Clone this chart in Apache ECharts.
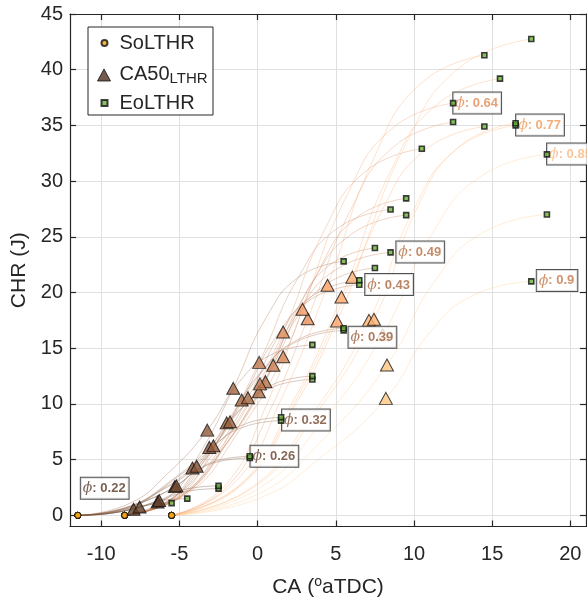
<!DOCTYPE html>
<html>
<head>
<meta charset="utf-8">
<script src="https://cdn.jsdelivr.net/npm/echarts@6/dist/echarts.min.js"></script>
<style>
html,body{margin:0;padding:0;background:#fff;}
#chart{width:587px;height:603px;}
</style>
</head>
<body>
<div id="chart"></div>
<script>
// Axis ticks
const xTicks = [-10, -5, 0, 5, 10, 15, 20];
const yTicks = [0, 5, 10, 15, 20, 25, 30, 35, 40, 45];

// One entry per cumulative heat-release trace
const phi = [0.22, 0.22, 0.22, 0.22, 0.26, 0.26, 0.32, 0.32, 0.35, 0.35, 0.36,
             0.39, 0.39, 0.41, 0.43, 0.43, 0.45, 0.47, 0.49, 0.5, 0.52, 0.55, 0.58,
             0.6, 0.64, 0.7, 0.68, 0.72, 0.77, 0.77, 0.75, 0.85, 0.88, 0.9];

// Start of LTHR (CA, heat release is zero there)
const soX = [-11.5, -11.5, -11.5, -11.5, -11.5, -11.5, -11.5, -11.5, -11.5, -11.5, -11.5,
             -8.5, -8.5, -8.5, -8.5, -8.5, -8.5, -8.5, -8.5, -8.5, -8.5, -8.5, -8.5,
             -5.5, -5.5, -5.5, -5.5, -5.5, -5.5, -5.5, -5.5, -5.5, -5.5, -5.5];

// CA50 of LTHR
const ca50X = [-7.94, -7.55, -6.4, -6.3, -5.3, -5.2, -4.17, -3.9, -3.09, -2.83, -3.22,
               -1.98, -1.77, -1.56, -1.02, -0.62, 0.08, 0.5, 0.15, 0.1, 1.0, 1.63, 1.63,
               3.2, 2.87, 5.08, 4.47, 5.36, 7.12, 7.44, 6.06, 8.0, 8.27, 8.2];
const ca50Y = [0.55, 0.75, 1.2, 1.33, 2.58, 2.65, 4.25, 4.4, 6.1, 6.25, 7.65,
               8.3, 8.4, 11.4, 10.35, 10.55, 11.1, 12, 11.8, 13.73, 13.48, 14.23, 16.45,
               17.65, 18.5, 17.45, 20.65, 19.6, 17.5, 17.6, 21.38, 16.2, 13.5, 10.5];

// End of LTHR
const eoX = [-5.5, -4.5, -2.5, -2.5, -0.5, -0.5, 1.5, 1.5, 3.5, 3.5, 3.5,
             5.5, 5.5, 5.5, 6.5, 6.5, 7.5, 7.5, 8.5, 8.5, 9.5, 9.5, 10.5,
             12.5, 12.5, 14.5, 14.5, 15.5, 16.5, 16.5, 17.5, 18.5, 18.5, 17.5];
const eoY = [1.1, 1.5, 2.4, 2.65, 5.15, 5.3, 8.5, 8.8, 12.2, 12.5, 15.3,
             16.6, 16.8, 22.8, 20.7, 21.1, 22.2, 24, 23.6, 27.45, 26.95, 28.45, 32.9,
             35.3, 37, 34.9, 41.3, 39.2, 35, 35.2, 42.75, 32.4, 27, 21];

// Trace points between start and CA50
const leadPts = [
  [[-10.08, 0.08], [-9.01, 0.28]], [[-9.92, 0.11], [-8.74, 0.38]],
  [[-9.46, 0.17], [-7.93, 0.6]], [[-9.42, 0.19], [-7.86, 0.66]],
  [[-9.02, 0.36], [-7.16, 1.29]], [[-8.98, 0.37], [-7.09, 1.33]],
  [[-8.57, 0.6], [-6.37, 2.13]], [[-8.46, 0.62], [-6.18, 2.2]],
  [[-8.14, 0.85], [-5.61, 3.05]], [[-8.03, 0.88], [-5.43, 3.13]],
  [[-8.19, 1.07], [-5.7, 3.83]],
  [[-5.89, 1.16], [-3.94, 4.15]], [[-5.81, 1.18], [-3.79, 4.2]],
  [[-5.72, 1.6], [-3.64, 5.7]], [[-5.51, 1.45], [-3.26, 5.18]],
  [[-5.35, 1.48], [-2.98, 5.28]], [[-5.07, 1.55], [-2.49, 5.55]],
  [[-4.9, 1.68], [-2.2, 6.0]], [[-5.04, 1.65], [-2.45, 5.9]],
  [[-5.06, 1.92], [-2.48, 6.86]], [[-4.7, 1.89], [-1.85, 6.74]],
  [[-4.45, 1.99], [-1.41, 7.11]], [[-4.45, 2.3], [-1.41, 8.23]],
  [[-2.02, 2.47], [0.59, 8.83]], [[-2.15, 2.59], [0.36, 9.25]],
  [[-1.27, 2.44], [1.91, 8.73]], [[-1.51, 2.89], [1.48, 10.33]],
  [[-1.16, 2.74], [2.1, 9.8]], [[-0.45, 2.45], [3.33, 8.75]],
  [[-0.32, 2.46], [3.56, 8.8]], [[-0.88, 2.99], [2.59, 10.69]],
  [[-0.1, 2.27], [3.95, 8.1]], [[0.01, 1.89], [4.14, 6.75]],
  [[-0.02, 1.47], [4.09, 5.25]]
];

// Trace points between CA50 and end
const tailPts = [
  [[-7.21, 0.86], [-6.48, 1.03]], [[-6.64, 1.17], [-5.72, 1.41]],
  [[-5.23, 1.87], [-4.06, 2.26]], [[-5.16, 2.07], [-4.02, 2.49]],
  [[-3.86, 4.02], [-2.42, 4.84]], [[-3.79, 4.13], [-2.38, 4.98]],
  [[-2.47, 6.63], [-0.77, 7.99]], [[-2.28, 6.86], [-0.66, 8.27]],
  [[-1.11, 9.52], [0.86, 11.47]], [[-0.93, 9.75], [0.97, 11.75]],
  [[-1.2, 11.93], [0.81, 14.38]],
  [[0.26, 12.95], [2.51, 15.6]], [[0.41, 13.1], [2.59, 15.79]],
  [[0.56, 17.78], [2.68, 21.43]], [[1.24, 16.15], [3.49, 19.46]],
  [[1.52, 16.46], [3.65, 19.83]], [[2.31, 17.32], [4.53, 20.87]],
  [[2.6, 18.72], [4.7, 22.56]], [[2.66, 18.41], [5.16, 22.18]],
  [[2.62, 21.41], [5.14, 25.8]], [[3.55, 21.02], [6.1, 25.33]],
  [[3.99, 22.19], [6.35, 26.74]], [[4.29, 25.66], [6.95, 30.93]],
  [[5.99, 27.53], [8.78, 33.18]], [[5.76, 28.86], [8.65, 34.78]],
  [[7.91, 27.22], [10.73, 32.81]], [[7.48, 32.21], [10.49, 38.82]],
  [[8.4, 30.58], [11.44, 36.85]], [[9.93, 27.3], [12.75, 32.9]],
  [[10.16, 27.46], [12.88, 33.09]], [[9.49, 33.35], [12.92, 40.19]],
  [[11.15, 25.27], [14.3, 30.46]], [[11.34, 21.06], [14.41, 25.38]],
  [[10.99, 16.38], [13.78, 19.74]]
];

// Equivalence-ratio tags
const tagText = ['0.22', '0.26', '0.32', '0.39', '0.43', '0.49', '0.64', '0.77', '0.85', '0.9'];
const tagX = [-11.34, -0.49, 1.53, 5.78, 6.85, 8.84, 12.48, 16.5, 18.48, 17.82];
const tagY = [2.44, 5.3, 8.57, 15.98, 20.71, 23.63, 37.02, 35.04, 32.44, 21.09];

// Tag text colours
const tagColors = ['#5a3825', '#66402c', '#774830', '#985d3b', '#aa6841', '#b56f45',
                   '#e38a53', '#ef9a59', '#f8b87f', '#c27848'];

const FONT = '"Liberation Sans", Arial, Helvetica, sans-serif';
const INK = '#262626';

// copper colormap
function copper(t) {
  const r = Math.min(1, 1.25 * t), g = 0.7812 * t, b = 0.4975 * t;
  return 'rgb(' + Math.round(r * 255) + ',' + Math.round(g * 255) + ',' + Math.round(b * 255) + ')';
}
function shade(p) { return Math.min(1, Math.max(0, 0.3 + (p - 0.22) * 1.1)); }

const curveSeries = phi.map((p, i) => ({
  type: 'line',
  data: [[soX[i], 0]].concat(leadPts[i], [[ca50X[i], ca50Y[i]]], tailPts[i], [[eoX[i], eoY[i]]]),
  smooth: 0.5,
  symbol: 'none',
  silent: true,
  z: 1,
  lineStyle: { color: copper(shade(p)), width: 1, opacity: 0.32 }
}));

const chart = echarts.init(document.getElementById('chart'), null, { renderer: 'canvas' });

const axisLineStyle = { color: INK, width: 1.2 };

chart.setOption({
  animation: false,
  backgroundColor: '#fff',
  grid: { left: 70, top: 14, width: 516, height: 517, containLabel: false },
  xAxis: [
    {
      type: 'value', min: -12, max: 21, position: 'bottom',
      axisLine: { show: true, onZero: false, lineStyle: axisLineStyle },
      axisTick: { show: true, inside: true, length: 6, customValues: xTicks, lineStyle: axisLineStyle },
      axisLabel: { customValues: xTicks, fontSize: 20, color: INK, margin: 18, fontFamily: FONT },
      splitLine: { show: true, lineStyle: { color: '#e0e0e0', width: 1 } },
      name: '{a|CA (}{s|o}{a|aTDC)}',
      nameLocation: 'middle',
      nameGap: 49,
      nameTextStyle: {
        rich: {
          a: { fontSize: 21, lineHeight: 24, color: INK, fontFamily: FONT },
          s: { fontSize: 14, lineHeight: 12, verticalAlign: 'top', color: INK, fontFamily: FONT }
        }
      }
    },
    {
      type: 'value', min: -12, max: 21, position: 'top',
      axisLine: { show: true, onZero: false, lineStyle: axisLineStyle },
      axisTick: { show: true, inside: true, length: 6, customValues: xTicks, lineStyle: axisLineStyle },
      axisLabel: { show: false },
      splitLine: { show: false }
    }
  ],
  yAxis: [
    {
      type: 'value', min: -1, max: 45, position: 'left',
      axisLine: { show: true, onZero: false, lineStyle: axisLineStyle },
      axisTick: { show: true, inside: true, length: 6, customValues: yTicks, lineStyle: axisLineStyle },
      axisLabel: { customValues: yTicks, fontSize: 20, color: INK, margin: 7, fontFamily: FONT },
      splitLine: { show: true, lineStyle: { color: '#e0e0e0', width: 1 } },
      name: 'CHR (J)',
      nameLocation: 'middle',
      nameGap: 37,
      nameTextStyle: { fontSize: 21, color: INK, fontFamily: FONT }
    },
    {
      type: 'value', min: -1, max: 45, position: 'right',
      axisLine: { show: true, onZero: false, lineStyle: axisLineStyle },
      axisTick: { show: true, inside: true, length: 6, customValues: yTicks, lineStyle: axisLineStyle },
      axisLabel: { show: false },
      splitLine: { show: false }
    }
  ],
  graphic: [
    {
      type: 'rect', z: 3, silent: true,
      shape: { x: 88, y: 27, width: 125, height: 88 },
      style: { fill: '#fff', stroke: INK, lineWidth: 1 }
    }
  ],
  legend: [
    {
      data: ['SoLTHR'], left: 100.5, top: 32, padding: 0, z: 5,
      itemWidth: 6, itemHeight: 6,
      textStyle: { fontSize: 20, lineHeight: 22, color: INK, fontFamily: FONT, padding: [0, 0, 0, 7] }
    },
    {
      data: ['CA50'], left: 97, top: 57, padding: 0, z: 5,
      itemWidth: 13, itemHeight: 12,
      itemStyle: { color: '#4f3122', borderColor: '#111', borderWidth: 1 },
      formatter: '{a|CA50}{s|LTHR}',
      textStyle: {
        color: INK, fontFamily: FONT, padding: [0, 0, 0, 4],
        rich: {
          a: { fontSize: 20, lineHeight: 22, verticalAlign: 'top', color: INK, fontFamily: FONT },
          s: { fontSize: 15, lineHeight: 14, verticalAlign: 'bottom', padding: [14, 0, 0, 0], color: INK, fontFamily: FONT }
        }
      }
    },
    {
      data: ['EoLTHR'], left: 100.5, top: 92, padding: 0, z: 5,
      itemWidth: 6, itemHeight: 6,
      textStyle: { fontSize: 20, lineHeight: 22, color: INK, fontFamily: FONT, padding: [0, 0, 0, 7] }
    }
  ],
  series: curveSeries.concat([
    {
      name: 'SoLTHR', type: 'scatter', z: 2,
      data: soX.map(x => [x, 0]),
      symbol: 'circle', symbolSize: 6,
      itemStyle: { color: '#f2a516', borderColor: '#111', borderWidth: 1 }
    },
    {
      name: 'CA50', type: 'scatter', z: 3,
      data: ca50X.map((x, i) => ({ value: [x, ca50Y[i]], itemStyle: { color: copper(shade(phi[i])) } })),
      symbol: 'triangle', symbolSize: [13, 12],
      itemStyle: { color: '#4f3122', borderColor: '#111', borderWidth: 1 }
    },
    {
      name: 'tags', type: 'scatter', z: 4, silent: true,
      data: tagX.map((x, i) => ({
        value: [x, tagY[i]],
        label: { color: tagColors[i], formatter: '{p|\u03d5}{v|: ' + tagText[i] + '}' }
      })),
      symbol: 'circle', symbolSize: 1,
      itemStyle: { color: 'rgba(0,0,0,0)' },
      label: {
        show: true, position: 'right', distance: 0,
        backgroundColor: '#fff', borderColor: INK, borderWidth: 1,
        padding: [3, 3, 2, 2],
        rich: {
          p: { fontFamily: '"DejaVu Serif", serif', fontStyle: 'italic', fontSize: 14, lineHeight: 16 },
          v: { fontFamily: FONT, fontWeight: 'bold', fontSize: 13, lineHeight: 16 }
        }
      }
    },
    {
      name: 'EoLTHR', type: 'scatter', z: 5,
      data: eoX.map((x, i) => [x, eoY[i]]),
      symbol: 'rect', symbolSize: 5,
      itemStyle: { color: '#6cb33c', borderColor: '#111', borderWidth: 1.6 }
    }
  ])
});
</script>
</body>
</html>
